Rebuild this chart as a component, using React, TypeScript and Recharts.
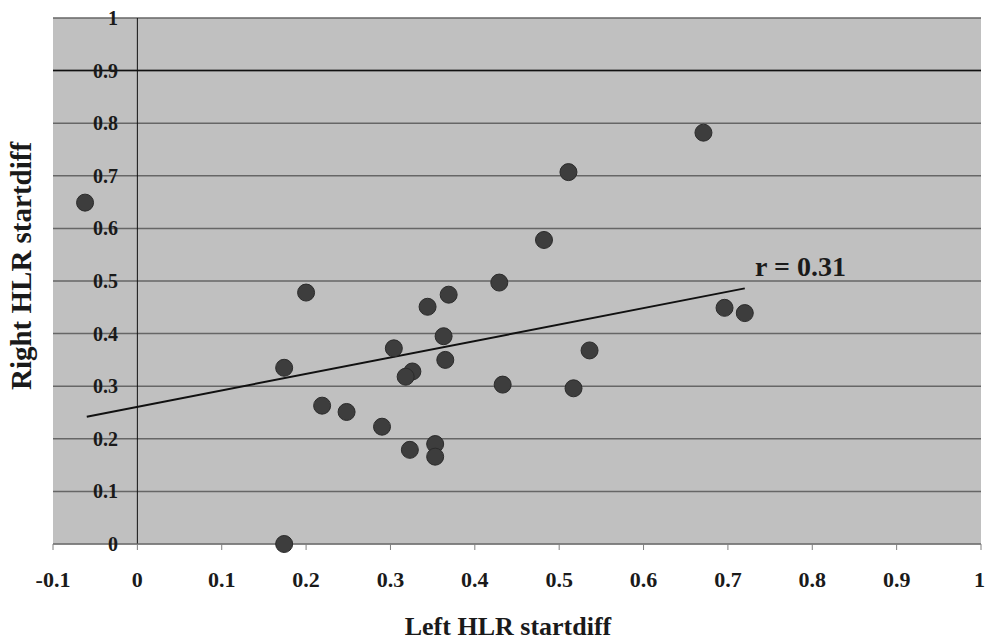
import React from 'react';
import {
  ScatterChart,
  Scatter,
  XAxis,
  YAxis,
  CartesianGrid,
  ReferenceLine,
  ReferenceDot,
} from 'recharts';

const leftStartdiff = [
  -0.062, 0.2, 0.174, 0.369, 0.344, 0.363, 0.304, 0.365, 0.326, 0.318, 0.219, 0.248, 0.29,
  0.323, 0.353, 0.353, 0.511, 0.482, 0.429, 0.536, 0.433, 0.517, 0.671, 0.696, 0.72, 0.174,
];
const rightStartdiff = [
  0.649, 0.478, 0.335, 0.474, 0.451, 0.395, 0.372, 0.35, 0.328, 0.318, 0.263, 0.251, 0.223,
  0.179, 0.19, 0.166, 0.707, 0.578, 0.497, 0.368, 0.303, 0.296, 0.782, 0.449, 0.439, 0,
];
const trendStart = { x: -0.06, y: 0.242 };
const trendEnd = { x: 0.72, y: 0.486 };
const xTicks = [-0.1, 0, 0.1, 0.2, 0.3, 0.4, 0.5, 0.6, 0.7, 0.8, 0.9, 1];
const yTicks = [0, 0.1, 0.2, 0.3, 0.4, 0.5, 0.6, 0.7, 0.8, 0.9, 1];
const rLabel = 'r = 0.31';

const points = leftStartdiff.map((x, i) => ({ x, y: rightStartdiff[i] }));

const serif = '"Liberation Serif", "Times New Roman", serif';

const fmt = (v: number) => String(Math.round(v * 10) / 10);

const YTick = (props: any) => {
  const { x, y, payload } = props;
  return (
    <text
      x={x + 73}
      y={y}
      dy="0.35em"
      textAnchor="end"
      fill="#1a1a1a"
      fontFamily={serif}
      fontWeight="bold"
      fontSize={20}
    >
      {fmt(payload.value)}
    </text>
  );
};

const Dot = (props: any) => (
  <circle cx={props.cx} cy={props.cy} r={8.5} fill="#3d3d3d" stroke="#2b2b2b" strokeWidth={1} />
);

export default function App() {
  return (
    <div style={{ position: 'absolute', left: 0, top: 0, background: '#fff' }}>
      <ScatterChart width={985} height={641} margin={{ top: 18, right: 4, bottom: 0, left: 0 }}>
        <CartesianGrid fill="#c0c0c0" stroke="#666" strokeWidth={1.5} vertical={false} />
        <XAxis
          type="number"
          dataKey="x"
          domain={[-0.1, 1]}
          ticks={xTicks}
          tickFormatter={fmt}
          height={97}
          stroke="#808080"
          tickSize={6}
          tickMargin={21}
          tick={{ fill: '#1a1a1a', fontFamily: serif, fontWeight: 'bold', fontSize: 22 }}
          label={{
            value: 'Left HLR startdiff',
            position: 'insideBottom',
            offset: 6,
            dx: -9,
            fill: '#1a1a1a',
            fontFamily: serif,
            fontWeight: 'bold',
            fontSize: 26,
          }}
        />
        <YAxis
          type="number"
          dataKey="y"
          domain={[0, 1]}
          ticks={yTicks}
          width={53}
          axisLine={false}
          tickLine={false}
          tick={<YTick />}
          label={{
            content: (p: any) => {
              const vb = p.viewBox;
              const cx = 31;
              const cy = vb.y + vb.height / 2 - 15;
              return (
                <text
                  x={cx}
                  y={cy}
                  transform={`rotate(-90 ${cx} ${cy})`}
                  textAnchor="middle"
                  fill="#1a1a1a"
                  fontFamily={serif}
                  fontWeight="bold"
                  fontSize={29}
                >
                  Right HLR startdiff
                </text>
              );
            },
          }}
        />
        <ReferenceLine y={0.9} stroke="#111" strokeWidth={1.5} />
        <ReferenceLine x={0} stroke="#111" strokeWidth={1} />
        <ReferenceLine
          segment={[trendStart, trendEnd]}
          stroke="#111"
          strokeWidth={2}
        />
        <Scatter data={points} shape={<Dot />} isAnimationActive={false} />
        <ReferenceDot
          x={0.786}
          y={0.528}
          r={1}
          fill="none"
          stroke="none"
          label={{
            value: rLabel,
            position: 'center',
            fill: '#1a1a1a',
            fontFamily: serif,
            fontWeight: 'bold',
            fontSize: 28,
          }}
        />
      </ScatterChart>
    </div>
  );
}
